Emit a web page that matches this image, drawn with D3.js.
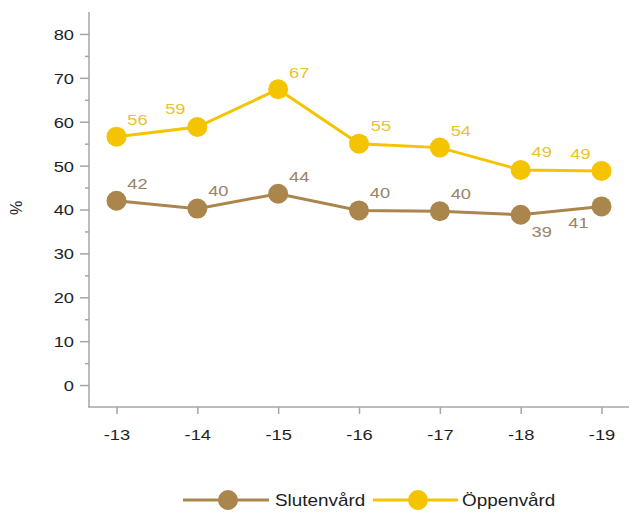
<!DOCTYPE html>
<html>
<head>
<meta charset="utf-8">
<script src="https://cdn.jsdelivr.net/npm/d3@7"></script>
<style>
  body { margin: 0; background: #fff; }
  svg text { font-family: "Liberation Sans", Arial, sans-serif; }
  .axis path, .axis line { stroke: #a6a6a6; stroke-width: 1.5; }
  .axis text { font-size: 15.5px; fill: #1e1e1e; }
</style>
</head>
<body>
<script>
"use strict";

// data
var years = ['-13', '-14', '-15', '-16', '-17', '-18', '-19'];
var sluten = [42.0, 40.2, 43.6, 39.8, 39.6, 38.8, 40.7];
var sluten_labels = ['42', '40', '44', '40', '40', '39', '41'];
var oppen = [56.6, 58.8, 67.4, 55.0, 54.1, 49.0, 48.8];
var oppen_labels = ['56', '59', '67', '55', '54', '49', '49'];
var y_ticks = [0, 10, 20, 30, 40, 50, 60, 70, 80];
var y_minor = [5, 15, 25, 35, 45, 55, 65, 75];

var width = 630, height = 513,
  stretch = 1.18;  // the text in the original is a bit wide

var svg = d3.select('body').append('svg')
  .attr('width', width)
  .attr('height', height);

// move text to (x, y) and widen it a little
function place(sel, xf, yf) {
  sel.attr('x', 0).attr('y', 0)
    .attr('transform', (d, i) => `translate(${xf(d, i)},${yf(d, i)}) scale(${stretch},1)`);
}

var x = d3.scalePoint()
  .domain(years)
  .range([89, 629])
  .padding(0.34);

var y = d3.scaleLinear()
  .domain([-5, 85])
  .range([407, 12]);

// y axis, major + minor ticks
svg.append('g')
  .attr('class', 'axis')
  .attr('transform', 'translate(89,0)')
  .call(d3.axisLeft(y).tickValues(y_ticks).tickSize(9).tickSizeOuter(0))
  .call(g => g.select('.domain').remove())
  .selectAll('text')
    .attr('dy', '0.35em')
    .call(place, () => -15, () => 0);

svg.append('g')
  .attr('class', 'axis')
  .attr('transform', 'translate(89,0)')
  .call(d3.axisLeft(y).tickValues(y_minor).tickSize(4).tickFormat(''))
  .call(g => g.select('.domain').remove());

svg.append('line')
  .attr('x1', 89).attr('x2', 89)
  .attr('y1', 12).attr('y2', 407)
  .attr('stroke', '#a6a6a6').attr('stroke-width', 1.5);

// x axis
svg.append('g')
  .attr('class', 'axis')
  .attr('transform', 'translate(0,407)')
  .call(d3.axisBottom(x).tickSize(7))
  .call(g => g.select('.domain').remove())
  .selectAll('text')
    .attr('dy', '0.35em')
    .call(place, () => 0, () => 28);

svg.append('line')
  .attr('x1', 88).attr('x2', 629)
  .attr('y1', 407).attr('y2', 407)
  .attr('stroke', '#a6a6a6').attr('stroke-width', 1.5);

svg.append('text')
  .attr('transform', 'translate(22,208) rotate(-90)')
  .attr('text-anchor', 'middle')
  .style('font-size', '16px')
  .attr('fill', '#1e1e1e')
  .text('%');

// series
var series = [
  {name: 'Slutenvård', values: sluten, labels: sluten_labels, color: '#aa864c', label_color: '#9b8268',
    offsets: [[21, -17], [21, -18], [21, -17], [21, -18], [21, -18], [21, 17], [-23, 16]]},
  {name: 'Öppenvård', values: oppen, labels: oppen_labels, color: '#f5c400', label_color: '#e9c235',
    offsets: [[21, -17], [-22, -18], [21, -17], [22, -18], [21, -17], [21, -18], [-21, -17]]}
];

var line = d3.line()
  .x((d, i) => x(years[i]))
  .y(d => y(d));

series.forEach(function(s) {
  var g = svg.append('g');

  g.append('path')
    .datum(s.values)
    .attr('d', line)
    .attr('fill', 'none')
    .attr('stroke', s.color)
    .attr('stroke-width', 3);

  g.selectAll('circle')
    .data(s.values)
    .enter().append('circle')
    .attr('cx', (d, i) => x(years[i]))
    .attr('cy', d => y(d))
    .attr('r', 10)
    .attr('fill', s.color);

  g.selectAll('text')
    .data(s.values)
    .enter().append('text')
    .attr('dy', '0.35em')
    .attr('text-anchor', 'middle')
    .style('font-size', '15.5px')
    .attr('fill', s.label_color)
    .text((d, i) => s.labels[i])
    .call(place, (d, i) => x(years[i]) + s.offsets[i][0], (d, i) => y(d) + s.offsets[i][1]);
});

// legend
var legend_items = [
  {x1: 183, x2: 269, cx: 228, tx: 275},
  {x1: 373, x2: 458, cx: 418, tx: 462}
];

legend_items.forEach(function(l, i) {
  var s = series[i];
  svg.append('line')
    .attr('x1', l.x1).attr('x2', l.x2)
    .attr('y1', 500).attr('y2', 500)
    .attr('stroke', s.color).attr('stroke-width', 3);
  svg.append('circle')
    .attr('cx', l.cx).attr('cy', 500).attr('r', 10)
    .attr('fill', s.color);
  svg.append('text')
    .datum(s.name)
    .attr('dy', '0.35em')
    .style('font-size', '16px')
    .attr('fill', '#1e1e1e')
    .text(s.name)
    .call(place, () => l.tx, () => 500);
});
</script>
</body>
</html>
